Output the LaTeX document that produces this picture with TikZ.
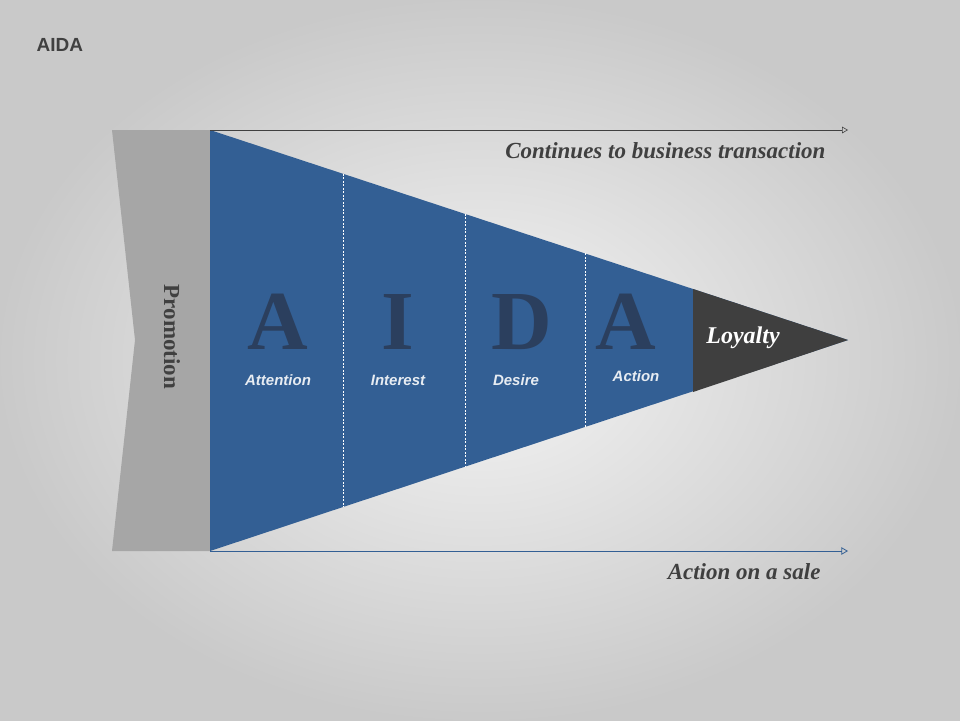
\documentclass[tikz,border=0pt]{standalone}
\usepackage{fontspec}
\setmainfont{Liberation Serif}
\setsansfont{Liberation Sans}
\usetikzlibrary{positioning, arrows}
\definecolor{aidablue}{HTML}{335F94}
\definecolor{aidanavy}{HTML}{2B3F5E}
\definecolor{loyal}{HTML}{3F3F3F}
\definecolor{promo}{HTML}{A6A6A6}
\definecolor{txt}{HTML}{404040}
\tikzset{
  x=1pt, y=-1pt,
  letter/.style={text=aidanavy, font=\fontsize{84}{84}\selectfont\bfseries},
  stage/.style={text=white!88!aidablue, font=\sffamily\bfseries\itshape\fontsize{15}{15}\selectfont},
  caption/.style={text=txt, font=\bfseries\itshape\fontsize{23}{23}\selectfont, anchor=east},
  divider/.style={white, dashed, line width=0.5pt, dash pattern=on 2pt off 1.5pt},
}

\begin{document}
\begin{tikzpicture}
        % background
        \shade[inner color=gray!8, outer color=gray!42] (0,0) rectangle (960,720);
        \useasboundingbox (0,0) rectangle (960,720);

        % title
        \node[text=txt, font=\sffamily\bfseries\fontsize{19}{19}\selectfont, anchor=west] (title) at (33,45) {AIDA};

        % promotion band
        \fill[promo] (112,130) -- (210,130) -- (210,551) -- (112,551) -- (135,340) -- cycle;
        \node[rotate=-90, text=txt, font=\bfseries\fontsize{23}{23}\selectfont] (promotion) at (172,337) {Promotion};

        % funnel
        \coordinate (top) at (210,130);
        \coordinate (bottom) at (210,551);
        \coordinate (tip) at (848,340);
        \fill[aidablue] (top) -- (tip) -- (bottom) -- cycle;
        \fill[loyal] (693,289) -- (tip) -- (693,392) -- cycle;
        \foreach \x in {343,465,585}
          \draw[divider] (\x,{130+(\x-210)*0.329}) -- (\x,{551-(\x-210)*0.329});

        % letters
        \node[letter] (a1) at (278,322) {A};
        \node[letter] (i) at (398,322) {I};
        \node[letter] (d) at (522,322) {D};
        \node[letter] (a2) at (626,322) {A};
        \node[stage] (attention) at (278,380) {Attention};
        \node[stage] (interest) at (398,380) {Interest};
        \node[stage] (desire) at (516,380) {Desire};
        \node[stage] (action) at (636,376) {Action};
        \node[text=white, font=\bfseries\itshape\fontsize{24}{24}\selectfont] (loyalty) at (743,338) {Loyalty};

        % arrows
        \coordinate (topend) at (848,130);
        \coordinate (bottomend) at (848,551);
        \draw[->, >=open triangle 60, txt, line width=0.6pt] (top) -- (topend);
        \draw[->, >=open triangle 60, aidablue, line width=0.8pt] (bottom) -- (bottomend);
        \node[caption] (business) at (829,151) {Continues to business transaction};
        \node[caption] (sale) at (824,572) {Action on a sale};
\end{tikzpicture}
\end{document}
